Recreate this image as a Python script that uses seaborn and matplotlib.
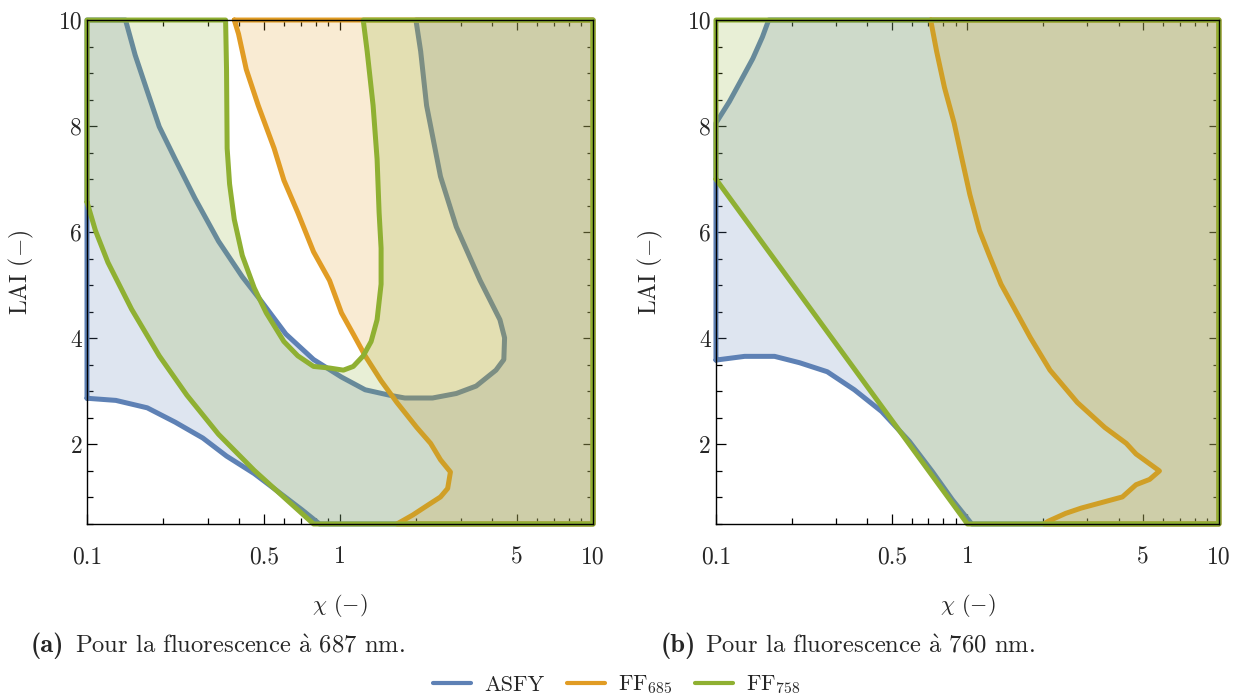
import matplotlib
matplotlib.use("Agg")
import matplotlib.pyplot as plt
import seaborn as sns
import numpy as np
from matplotlib.lines import Line2D
from matplotlib.ticker import FixedLocator, NullFormatter

# Limites des axes (chi en log, LAI en linéaire)
X_MIN, X_MAX = 0.1, 10
Y_MIN, Y_MAX = 0.5, 10

# --- (a) fluorescence à 687 nm ---
# ASFY : frontière basse
a_asfy_low_x = [0.1, 0.130, 0.173, 0.223, 0.287, 0.356, 0.458, 0.569, 0.706, 0.83]
a_asfy_low_y = [2.87, 2.83, 2.69, 2.42, 2.12, 1.78, 1.45, 1.11, 0.77, 0.5]
# ASFY : frontière en U (du haut gauche au haut droit)
a_asfy_up_x = [0.142, 0.155, 0.173, 0.193, 0.223, 0.267, 0.331, 0.411, 0.492, 0.611,
               0.786, 1.013, 1.257, 1.561, 1.803, 2.321, 2.882, 3.451, 4.133, 4.44,
               4.47, 4.285, 3.578, 2.882, 2.495, 2.198, 2.083, 1.995]
a_asfy_up_y = [10.0, 9.34, 8.66, 7.99, 7.38, 6.64, 5.83, 5.16, 4.68, 4.08,
               3.60, 3.27, 3.03, 2.93, 2.875, 2.875, 2.96, 3.10, 3.40, 3.60,
               4.01, 4.35, 5.09, 6.10, 7.05, 8.39, 9.41, 10.0]
# FF685
a_ff685_x = [0.382, 0.397, 0.426, 0.475, 0.549, 0.600, 0.681, 0.786, 0.909, 1.013,
             1.128, 1.257, 1.453, 1.678, 2.01, 2.28, 2.495, 2.731, 2.663, 2.495,
             2.198, 1.939, 1.678]
a_ff685_y = [10.0, 9.74, 9.07, 8.39, 7.58, 6.98, 6.37, 5.63, 5.09, 4.48,
             4.08, 3.67, 3.20, 2.79, 2.32, 2.02, 1.71, 1.48, 1.17, 1.01,
             0.84, 0.67, 0.5]
# FF758 : frontière gauche
a_ff758_left_x = [0.1, 0.108, 0.121, 0.150, 0.193, 0.248, 0.331, 0.458, 0.611, 0.786]
a_ff758_left_y = [6.57, 6.03, 5.43, 4.55, 3.67, 2.93, 2.19, 1.51, 0.97, 0.5]
# FF758 : frontière en U
a_ff758_u_x = [0.353, 0.356, 0.358, 0.366, 0.382, 0.411, 0.458, 0.511, 0.600, 0.681,
               0.786, 0.909, 1.031, 1.128, 1.235, 1.327, 1.401, 1.453, 1.453, 1.427,
               1.401, 1.351, 1.28, 1.235]
a_ff758_u_y = [10.0, 9.07, 7.58, 6.91, 6.24, 5.56, 4.95, 4.48, 3.94, 3.67,
               3.47, 3.44, 3.40, 3.47, 3.67, 3.94, 4.35, 5.02, 5.70, 6.37,
               7.38, 8.39, 9.41, 10.0]

# --- (b) fluorescence à 760 nm ---
b_asfy_low_x = [0.1, 0.130, 0.171, 0.215, 0.277, 0.355, 0.456, 0.587, 0.727, 0.870, 1.04]
b_asfy_low_y = [3.59, 3.66, 3.66, 3.54, 3.37, 3.03, 2.62, 2.06, 1.48, 0.96, 0.5]
b_asfy_up_x = [0.1, 0.113, 0.126, 0.140, 0.153, 0.162]
b_asfy_up_y = [8.06, 8.46, 8.87, 9.27, 9.68, 10.0]
b_ff685_x = [0.714, 0.754, 0.810, 0.885, 0.951, 1.022, 1.117, 1.222, 1.36, 1.542,
             1.78, 2.129, 2.735, 3.515, 4.28, 4.68, 5.80, 5.30, 4.68, 4.13,
             3.643, 2.835, 2.457, 2.09, 2.018]
b_ff685_y = [10.0, 9.41, 8.73, 8.06, 7.38, 6.71, 6.03, 5.56, 5.02, 4.55,
             4.01, 3.40, 2.79, 2.32, 2.02, 1.82, 1.50, 1.34, 1.24, 1.01,
             0.94, 0.80, 0.70, 0.55, 0.5]
b_ff758_x = [0.1, 1.0]
b_ff758_y = [7.0, 0.5]

C_ASFY = '#5E81B5'
C_FF685 = '#E19C24'
C_FF758 = '#8FB032'

sns.set_theme(style="ticks")
plt.rcParams['font.family'] = ['cmr10', 'DejaVu Serif']
plt.rcParams['mathtext.fontset'] = 'cm'
plt.rcParams['axes.unicode_minus'] = False


def region(ax, xs, ys, color, z):
    ax.fill(xs, ys, color=color, alpha=0.2, lw=0, zorder=z)
    sns.lineplot(x=list(xs) + [xs[0]], y=list(ys) + [ys[0]], sort=False,
                 estimator=None, color=color, lw=3.6, ax=ax, zorder=z + 0.5,
                 clip_on=False, solid_joinstyle='round', solid_capstyle='round')


def style_axes(ax):
    ax.set_xscale('log')
    ax.set_xlim(X_MIN, X_MAX)
    ax.set_ylim(Y_MIN, Y_MAX)
    ax.set_xticks([0.1, 0.5, 1, 5, 10])
    ax.set_xticklabels(['0.1', '0.5', '1', '5', '10'])
    ax.xaxis.set_minor_locator(FixedLocator([0.2, 0.3, 0.4, 0.6, 0.7, 0.8, 0.9,
                                             2, 3, 4, 6, 7, 8, 9]))
    ax.xaxis.set_minor_formatter(NullFormatter())
    ax.set_yticks([2, 4, 6, 8, 10])
    ax.set_yticklabels(['2', '4', '6', '8', '10'])
    ax.yaxis.set_minor_locator(FixedLocator(np.arange(0.5, 10.01, 0.5)))
    ax.tick_params(which='both', direction='in', top=True, right=True,
                   labelsize=17, width=0.9, color='black')
    ax.tick_params(axis='x', which='major', pad=16)
    ax.tick_params(which='major', length=7)
    ax.tick_params(which='minor', length=4)
    for sp in ax.spines.values():
        sp.set_color('black')
        sp.set_linewidth(1.0)
        sp.set_zorder(20)
    ax.set_xlabel(r'$\chi$ $(-)$', fontsize=16, labelpad=17)
    ax.set_ylabel(r'LAI $(-)$', fontsize=17, labelpad=16)


fig = plt.figure(figsize=(12.34, 6.98), dpi=100)
ax_a = fig.add_axes([0.0705, 0.2493, 0.4101, 0.722])
ax_b = fig.add_axes([0.5802, 0.2493, 0.4076, 0.722])
for ax in (ax_a, ax_b):
    style_axes(ax)

# (a)
region(ax_a,
       a_asfy_low_x + [X_MAX, X_MAX] + a_asfy_up_x[::-1] + [X_MIN],
       a_asfy_low_y + [Y_MIN, Y_MAX] + a_asfy_up_y[::-1] + [Y_MAX],
       C_ASFY, 1)
region(ax_a,
       a_ff685_x + [X_MAX, X_MAX],
       a_ff685_y + [Y_MIN, Y_MAX],
       C_FF685, 3)
region(ax_a,
       a_ff758_left_x + [X_MAX, X_MAX] + a_ff758_u_x[::-1] + [X_MIN],
       a_ff758_left_y + [Y_MIN, Y_MAX] + a_ff758_u_y[::-1] + [Y_MAX],
       C_FF758, 5)

# (b)
region(ax_b,
       b_asfy_low_x + [X_MAX, X_MAX] + b_asfy_up_x[::-1],
       b_asfy_low_y + [Y_MIN, Y_MAX] + b_asfy_up_y[::-1],
       C_ASFY, 1)
region(ax_b,
       b_ff685_x + [X_MAX, X_MAX],
       b_ff685_y + [Y_MIN, Y_MAX],
       C_FF685, 3)
region(ax_b,
       b_ff758_x + [X_MAX, X_MAX, X_MIN],
       b_ff758_y + [Y_MIN, Y_MAX, Y_MAX],
       C_FF758, 5)

# Légendes des sous-figures
cap_y = 1 - 646 / 698
fig.text(31 / 1234, cap_y, '(a)', family='cmb10', fontsize=19, va='center')
fig.text(75 / 1234, cap_y, r'Pour la fluorescence $\mathrm{\grave{a}}$ 687 nm.',
         fontsize=17.7, va='center')
fig.text(661 / 1234, cap_y, '(b)', family='cmb10', fontsize=19, va='center')
fig.text(705 / 1234, cap_y, r'Pour la fluorescence $\mathrm{\grave{a}}$ 760 nm.',
         fontsize=17.7, va='center')

handles = [Line2D([], [], color=C_ASFY, lw=3),
           Line2D([], [], color=C_FF685, lw=3),
           Line2D([], [], color=C_FF758, lw=3)]
fig.legend(handles, ['ASFY', r'FF$_{685}$', r'FF$_{758}$'], loc='center',
           bbox_to_anchor=(0.5, 1 - 685 / 698), ncol=3, frameon=False,
           fontsize=16, handlelength=1.7, columnspacing=1.0, handletextpad=0.6)

fig.savefig('out.png', dpi=100)
